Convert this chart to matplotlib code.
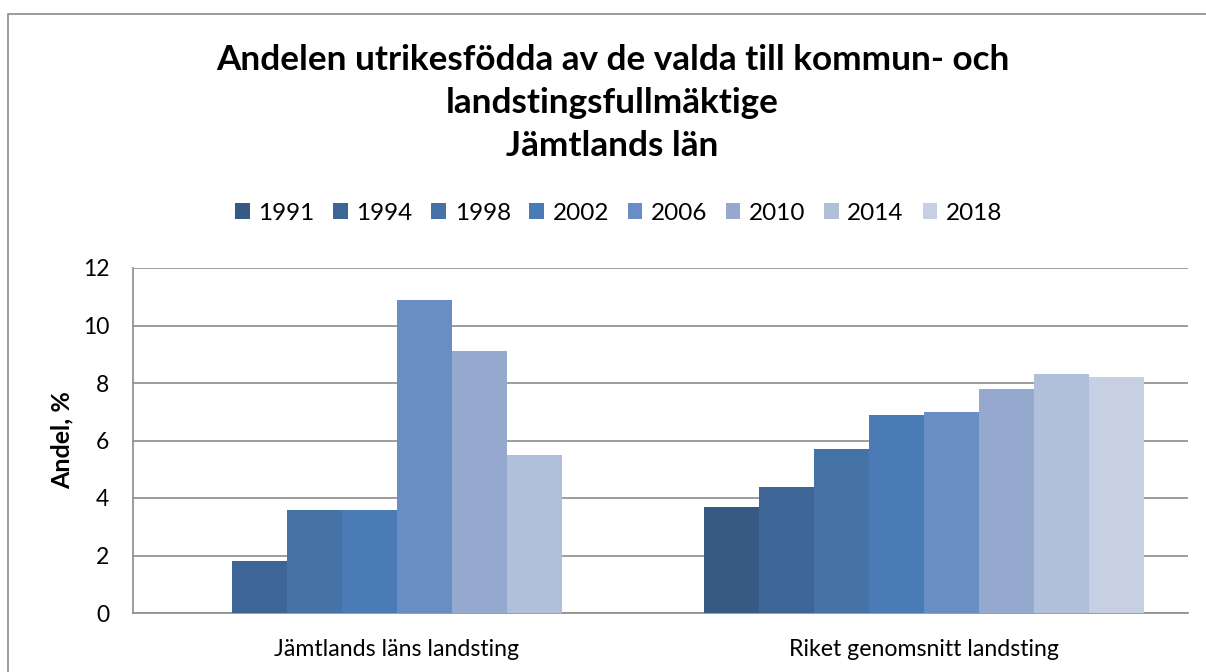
#Andel utrikesfödda bland valda ledamöter
'''
Grouped bar chart over the share of foreign born among those
elected to the county council, Jämtland vs. the national average.
'''
import numpy as np
import matplotlib.pyplot as plt
from matplotlib.patches import Patch, Rectangle

plt.rcParams['font.family'] = ['Lato', 'DejaVu Sans']

years = ['1991', '1994', '1998', '2002', '2006', '2010', '2014', '2018']
groups = ['Jämtlands läns landsting', 'Riket genomsnitt landsting']

# one list per group, None where there is no value
jamtland = [None, 1.8, 3.6, 3.6, 10.9, 9.1, 5.5, None]
riket = [3.7, 4.4, 5.7, 6.9, 7.0, 7.8, 8.3, 8.2]

colors = ['#375a85', '#3d6596', '#4572a7', '#4a7bb4',
          '#6a8ec3', '#95a9cf', '#b0bfda', '#c7d0e3']

yticks = [0, 2, 4, 6, 8, 10, 12]

fig = plt.figure(figsize=(12.06, 6.72), dpi=100)

# grey frame round the chart (runs off the right and bottom edge)
frame = Rectangle((7.5 / 1206, -0.05), 1.2, 1 - 13.5 / 672 + 0.05,
                  transform=fig.transFigure, fill=False,
                  edgecolor='#8c8c8c', linewidth=1.2)
fig.patches.append(frame)

ax = fig.add_axes([133 / 1206, 1 - 613 / 672, (1188 - 133) / 1206, (613 - 268) / 672])

x = np.arange(len(groups))
width = 0.835 / len(years)
for i, year in enumerate(years):
    vals = [jamtland[i], riket[i]]
    offs = x + (i - (len(years) - 1) / 2) * width
    for xo, v in zip(offs, vals):
        if v is None:
            continue
        ax.bar(xo, v, width, color=colors[i], edgecolor='none', zorder=3)

ax.set_xlim(-0.5, 1.5)
ax.set_ylim(0, 12)
ax.set_yticks(yticks)
ax.set_xticks(x)
ax.set_xticklabels(groups, fontsize=16.7)
ax.tick_params(axis='y', length=0, pad=17, labelsize=16.5)
ax.tick_params(axis='x', length=0, pad=19)
ax.yaxis.grid(True, color='#8c8c8c', linewidth=1.2, zorder=0)
for s in ['top', 'right']:
    ax.spines[s].set_visible(False)
for s in ['left', 'bottom']:
    ax.spines[s].set_color('#8c8c8c')
    ax.spines[s].set_linewidth(1.2)
ax.set_ylabel('Andel, %', fontsize=18, fontweight='bold', labelpad=7)

fig.text(0.508, 1 - 44 / 672,
         'Andelen utrikesfödda av de valda till kommun- och\nlandstingsfullmäktige\nJämtlands län',
         ha='center', va='top', fontsize=25.3, fontweight='bold', linespacing=1.42)

handles = [Patch(facecolor=c, edgecolor='none') for c in colors]
fig.legend(handles, years, loc='center', bbox_to_anchor=(0.513, 1 - 213 / 672),
           ncol=8, frameon=False, fontsize=17.5, handlelength=0.6, handleheight=0.6,
           handletextpad=0.35, columnspacing=0.77)

plt.savefig('out.png', dpi=100)
